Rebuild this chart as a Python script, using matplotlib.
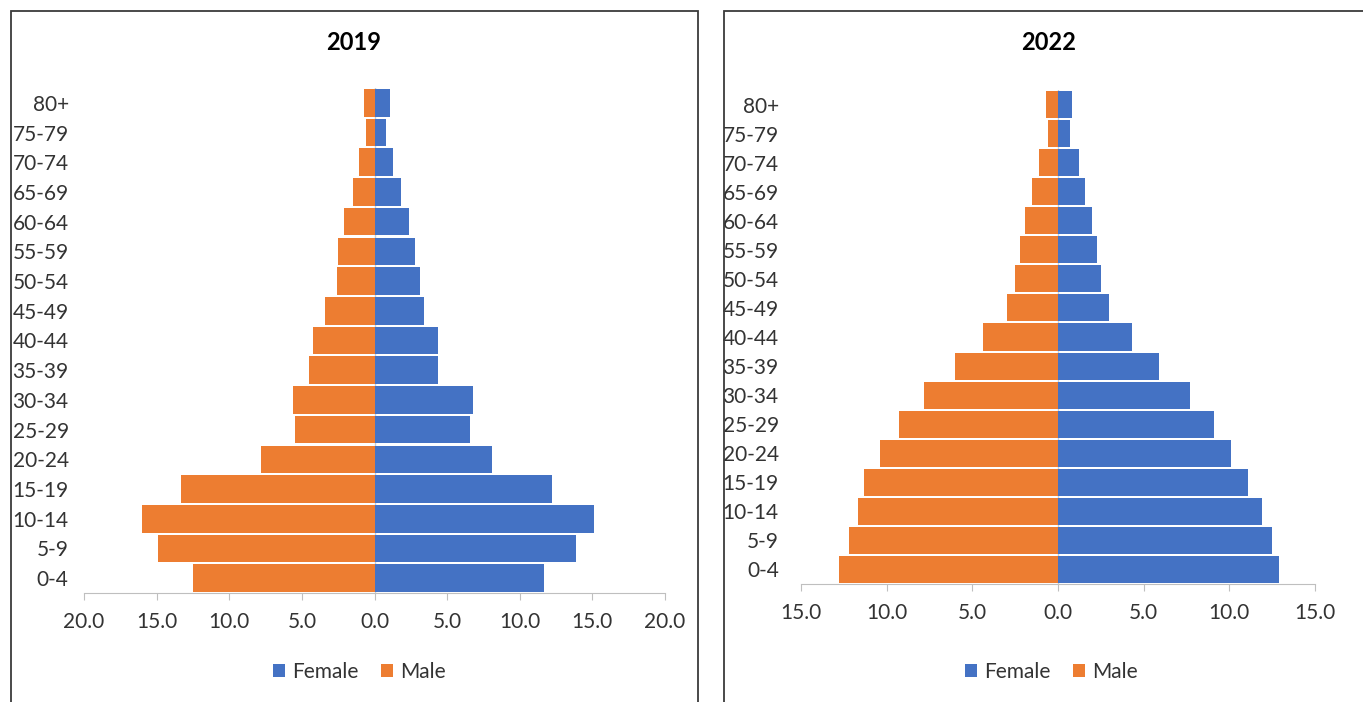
import numpy as np
import matplotlib.pyplot as plt
from matplotlib.patches import Rectangle
from matplotlib.ticker import FuncFormatter

plt.rcParams['font.family'] = ['Lato', 'DejaVu Sans']

# age groups, youngest first (bottom of the pyramid)
age_groups = ['0-4', '5-9', '10-14', '15-19', '20-24', '25-29', '30-34', '35-39',
              '40-44', '45-49', '50-54', '55-59', '60-64', '65-69', '70-74', '75-79', '80+']

# share of population (%) by sex
female_2019 = [11.7, 13.9, 15.1, 12.2, 8.1, 6.6, 6.8, 4.4, 4.4, 3.4, 3.1, 2.8, 2.4, 1.8, 1.3, 0.8, 1.1]
male_2019 = [12.5, 14.9, 16.0, 13.3, 7.8, 5.5, 5.6, 4.5, 4.2, 3.4, 2.6, 2.5, 2.1, 1.5, 1.1, 0.6, 0.7]
female_2022 = [12.9, 12.5, 11.9, 11.1, 10.1, 9.1, 7.7, 5.9, 4.3, 3.0, 2.5, 2.3, 2.0, 1.6, 1.2, 0.7, 0.8]
male_2022 = [12.8, 12.2, 11.7, 11.3, 10.4, 9.3, 7.8, 6.0, 4.4, 3.0, 2.5, 2.2, 1.9, 1.5, 1.1, 0.6, 0.7]

blue = '#4472C4'
orange = '#ED7D31'
text_col = '#333333'

W, H = 1363, 702
fig = plt.figure(figsize=(W / 100, H / 100), dpi=100)


def px_axes(x0, x1, y_top, y_bot):
    return fig.add_axes([x0 / W, 1 - y_bot / H, (x1 - x0) / W, (y_bot - y_top) / H])


def pyramid(ax, female, male, lim, step, title, title_x, legend_x, label_pad):
    y = np.arange(len(age_groups))
    ax.axvline(0, color='#d0d0d0', lw=1, zorder=0)
    fb = ax.barh(y, female, height=0.93, color=blue, label='Female', zorder=2)
    mb = ax.barh(y, -np.array(male), height=0.93, color=orange, label='Male', zorder=2)
    ax.set_xlim(-lim, lim)
    ax.set_ylim(-0.5, len(age_groups) - 0.5)
    ax.set_xticks(np.arange(-lim, lim + 0.1, step))
    ax.xaxis.set_major_formatter(FuncFormatter(lambda v, p: f'{abs(v):.1f}'))
    ax.set_yticks(y)
    ax.set_yticklabels(age_groups)
    for s in ['top', 'right', 'left']:
        ax.spines[s].set_visible(False)
    ax.spines['bottom'].set_color('#bfbfbf')
    ax.tick_params(axis='x', direction='out', length=5, color='#bfbfbf',
                   labelsize=15, labelcolor=text_col, pad=9)
    ax.tick_params(axis='y', length=0, labelsize=15, labelcolor=text_col, pad=label_pad)
    fig.text(title_x / W, 1 - 43 / H, title, ha='center', va='center',
             fontsize=17, fontweight='bold', color='black')
    ax.legend(handles=[fb, mb], loc='center', bbox_to_anchor=(legend_x / W, 1 - 672 / H),
              bbox_transform=fig.transFigure, ncol=2, frameon=False, fontsize=15,
              handlelength=0.55, handleheight=0.55, handletextpad=0.35,
              columnspacing=1.1, labelcolor=text_col)


ax1 = px_axes(84, 665, 88, 593)
pyramid(ax1, female_2019, male_2019, 20, 5, '2019', 353.5, 359.5, 11)

ax2 = px_axes(801, 1315, 90, 584)
pyramid(ax2, female_2022, male_2022, 15, 5, '2022', 1048.5, 1051.5, 16)

# panel borders
for x0, x1 in [(11, 698), (724, 1400)]:
    fig.patches.append(Rectangle((x0 / W, -0.2), (x1 - x0) / W, 1.2 - 10.7 / H,
                                 transform=fig.transFigure, fill=False,
                                 edgecolor='#3a3a3a', lw=1.3, clip_on=False))

fig.savefig('out.png', dpi=100)
